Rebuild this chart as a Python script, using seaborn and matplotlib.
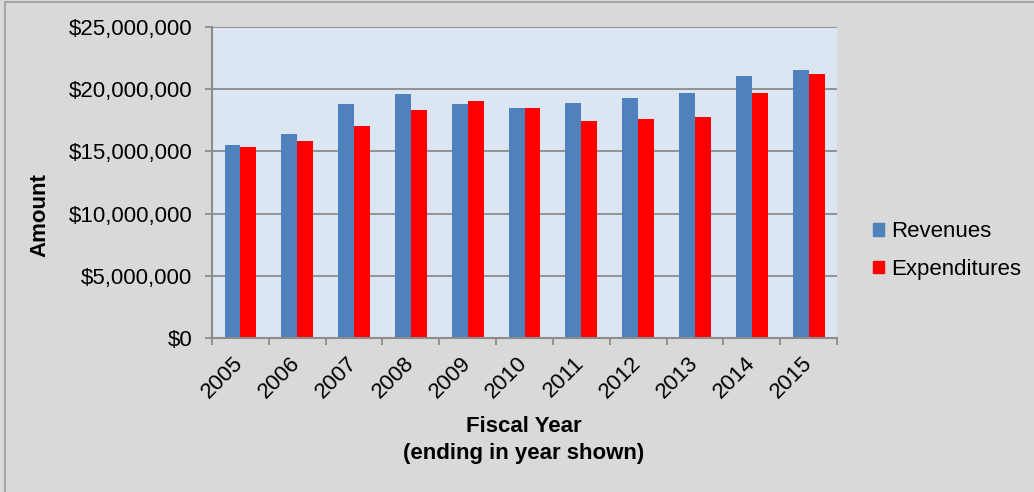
import matplotlib
matplotlib.use("Agg")
import matplotlib.pyplot as plt
from matplotlib.lines import Line2D
from matplotlib.ticker import FuncFormatter, FixedLocator
import numpy as np
import pandas as pd
import seaborn as sns

# Fiscal-year totals (dollars)
years = ["2005", "2006", "2007", "2008", "2009", "2010",
         "2011", "2012", "2013", "2014", "2015"]
revenues = [15.51e6, 16.40e6, 18.80e6, 19.58e6, 18.78e6, 18.51e6,
            18.86e6, 19.26e6, 19.66e6, 21.05e6, 21.51e6]
expenditures = [15.33e6, 15.81e6, 17.06e6, 18.30e6, 19.04e6, 18.51e6,
                17.44e6, 17.63e6, 17.76e6, 19.71e6, 21.19e6]
series_names = ["Revenues", "Expenditures"]
series_colors = ["#4F81BD", "#FF0000"]
y_ticks = [0, 5e6, 10e6, 15e6, 20e6, 25e6]

df = pd.DataFrame({
    "Year": years * 2,
    "Amount": revenues + expenditures,
    "Series": [series_names[0]] * len(years) + [series_names[1]] * len(years),
})

sns.set_theme(style="white")
plt.rcParams["font.family"] = ["Liberation Sans", "DejaVu Sans"]
plt.rcParams["text.color"] = "black"

bg = "#D9D9D9"
grid_c = "#8C8C8C"
fig = plt.figure(figsize=(10.34, 4.92), dpi=100, facecolor=bg)
ax = fig.add_axes([212 / 1034, 1 - 338 / 492, (837 - 212) / 1034, (338 - 27) / 492])
ax.set_facecolor("#DCE6F2")

sns.barplot(data=df, x="Year", y="Amount", hue="Series", order=years,
            hue_order=series_names, palette=series_colors, width=0.56,
            saturation=1, ax=ax, legend=False, linewidth=0.6,
            edgecolor="none")

ax.set_xlim(-0.5, len(years) - 0.5)
ax.set_ylim(0, 25e6)
ax.yaxis.set_major_locator(FixedLocator(y_ticks))
ax.yaxis.set_major_formatter(FuncFormatter(lambda v, p: f"${v:,.0f}"))
ax.grid(axis="y", color=grid_c, linewidth=1.3)
ax.set_axisbelow(True)

for s in ["top", "right"]:
    ax.spines[s].set_visible(False)
for s in ["left", "bottom"]:
    ax.spines[s].set_color(grid_c)
    ax.spines[s].set_linewidth(1.5)

# Category boundaries get the tick marks; labels sit at category centres
ax.set_xticks(np.arange(-0.5, len(years)), minor=True)
ax.tick_params(axis="x", which="minor", length=5, width=1.3, color=grid_c,
               direction="out", bottom=True)
ax.tick_params(axis="x", which="major", length=0, pad=16, labelsize=16,
               labelcolor="black")
ax.tick_params(axis="y", which="major", length=5, width=1.3, color=grid_c,
               direction="out", left=True, pad=9, labelsize=16,
               labelcolor="black")
ax.set_xticks(range(len(years)))
ax.set_xticklabels(years, rotation=45, ha="right", va="center",
                   rotation_mode="anchor")
ax.set_xlabel("")
ax.set_ylabel("")

fig.text(40 / 1034, 1 - 215 / 492, "Amount", rotation=90, ha="center",
         va="center", fontsize=16, fontweight="bold", color="black")
fig.text(524 / 1034, 1 - 426 / 492, "Fiscal Year", ha="center", va="center",
         fontsize=16, fontweight="bold", color="black")
fig.text(524 / 1034, 1 - 453 / 492, "(ending in year shown)", ha="center",
         va="center", fontsize=16, fontweight="bold", color="black")

handles = [plt.Rectangle((0, 0), 1, 1, color=c) for c in series_colors]
leg = fig.legend(handles, series_names, loc="center left",
                 bbox_to_anchor=(853 / 1034, 1 - 250.5 / 492), frameon=False,
                 fontsize=16, handlelength=0.5, handleheight=0.5,
                 handletextpad=0.3, labelspacing=0.75)
for t in leg.get_texts():
    t.set_color("black")

# Chart frame lines
fig.add_artist(Line2D([5 / 1034, 1], [1 - 1.5 / 492, 1 - 1.5 / 492],
                      transform=fig.transFigure, color="#A6A6A6", linewidth=1.5))
fig.add_artist(Line2D([5 / 1034, 5 / 1034], [0, 1 - 1.5 / 492],
                      transform=fig.transFigure, color="#A6A6A6", linewidth=1.5))

fig.savefig("out.png", dpi=100, facecolor=bg)
